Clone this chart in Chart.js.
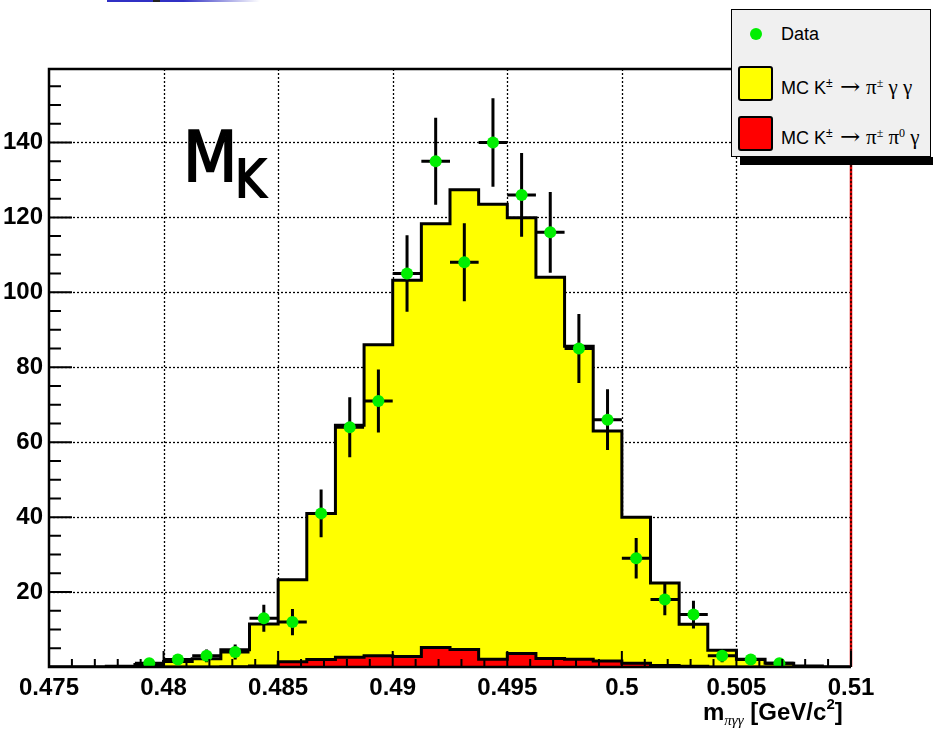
<!DOCTYPE html>
<html>
<head>
<meta charset="utf-8">
<script src="https://cdn.jsdelivr.net/npm/chart.js@4.4.0/dist/chart.umd.min.js"></script>
<style>
  html, body { margin: 0; padding: 0; background: #fff; }
  #wrap { position: relative; width: 933px; height: 732px; overflow: hidden; font-family: "Liberation Sans", Arial, sans-serif; }
  #c { position: absolute; left: 0; top: 0; }
  .abs { position: absolute; white-space: nowrap; line-height: 1; }
  #topbar { left: 107px; top: 0; width: 153px; height: 2px; background: linear-gradient(to right, #3030c4 0%, #3030c4 50%, #ffffff 100%); }
  #topbar i { position: absolute; left: 46px; top: 0; width: 7px; height: 2px; background: #222; }
  .mk { font-family: "DejaVu Sans", sans-serif; color: #000; -webkit-text-stroke: 2px #000; transform-origin: left top; transform: scaleX(0.9); }
  #leg { left: 731px; top: 9px; width: 200px; height: 148px; background: #f0f0f0; border: 1px solid #000; box-sizing: border-box; }
  #legShadow { left: 740px; top: 157px; width: 193px; height: 8px; background: #000; }
  .lt { font-size: 18px; color: #000; }
  .sym { font-family: "Liberation Serif", "DejaVu Serif", serif; font-size: 21px; }
  .arr { font-family: "DejaVu Serif", serif; font-size: 22px; display: inline-block; transform: scaleX(1.1); margin: 0 7px 0 3px; }
  .lt sup { font-size: 12px; line-height: 0; vertical-align: 7px; }
  .swatch { width: 35px; height: 35px; border: 2px solid #000; border-radius: 3px; box-sizing: border-box; }
  .dot { width: 12px; height: 12px; border-radius: 50%; background: #00ee00; }
  #xtitle { left: 703px; top: 700px; font-size: 24px; font-weight: bold; color: #000; }
  #xtitle sub { font-family: "Liberation Serif", serif; font-style: italic; font-weight: normal; font-size: 15px; line-height: 0; vertical-align: -5px; }
  #xtitle sup { font-size: 15px; line-height: 0; vertical-align: 11px; }
</style>
</head>
<body>
<div id="wrap">
  <canvas id="c" width="933" height="732"></canvas>
  <div id="topbar" class="abs"><i></i></div>
  <div class="abs mk" style="left:183px; top:122px; font-size:70px;">M</div>
  <div class="abs mk" style="left:235px; top:153px; font-size:52px;">K</div>
  <div id="legShadow" class="abs"></div>
  <div id="leg" class="abs"></div>
  <div class="abs dot" style="left:750px; top:28px;"></div>
  <div class="abs lt" style="left:781px; top:25px;">Data</div>
  <div class="abs swatch" style="left:738px; top:66px; background:#ffff00;"></div>
  <div class="abs lt" style="left:781px; top:76px;">MC K<sup>±</sup> <span class="arr">→</span><span class="sym">π<sup>±</sup> γ γ</span></div>
  <div class="abs swatch" style="left:738px; top:116px; background:#ff0000;"></div>
  <div class="abs lt" style="left:781px; top:126px;">MC K<sup>±</sup> <span class="arr">→</span><span class="sym">π<sup>±</sup> π<sup>0</sup> γ</span></div>
  <div id="xtitle" class="abs">m<sub>πγγ</sub> [GeV/c<sup>2</sup>]</div>
</div>
<script>
// bin edges of the histograms (GeV/c^2)
const binEdges = [0.475, 0.47625, 0.4775, 0.47875, 0.48, 0.48125, 0.4825, 0.48375, 0.485, 0.48625,
  0.4875, 0.48875, 0.49, 0.49125, 0.4925, 0.49375, 0.495, 0.49625, 0.4975, 0.49875,
  0.5, 0.50125, 0.5025, 0.50375, 0.505, 0.50625, 0.5075, 0.50875, 0.51];

// stacked MC total (yellow outline) and the pi pi0 gamma part (red), per bin
const mcTotal = [0, 0, 0.2, 0.7, 1.5, 2.2, 4.6, 11.5, 23.3, 41, 64.5, 86, 103.2, 118.3, 127.4,
  123.5, 119.9, 104, 85.6, 63, 40, 22.4, 11.4, 4.5, 2.1, 1.0, 0.3, 0];
const mcPi0 = [0, 0, 0, 0, 0, 0, 0.1, 0.3, 1.4, 2.0, 2.6, 3.0, 2.8, 5.2, 4.7,
  2.1, 3.6, 2.3, 2.1, 1.6, 1.0, 0.4, 0.2, 0, 0, 0, 0, 0];

// data points
const dataX = [0.479375, 0.480625, 0.481875, 0.483125, 0.484375, 0.485625, 0.486875, 0.488125,
  0.489375, 0.490625, 0.491875, 0.493125, 0.494375, 0.495625, 0.496875, 0.498125, 0.499375,
  0.500625, 0.501875, 0.503125, 0.504375, 0.505625, 0.506875];
const dataY = [1, 2, 3, 4, 13, 12, 41, 64, 71, 105, 135, 108, 140, 126, 116, 85, 66, 29, 18, 14, 3, 2, 1];
const dataErr = [1, 1.4, 1.7, 2, 3.6, 3.5, 6.4, 8, 8.4, 10.2, 11.6, 10.4, 11.8, 11.2, 10.8, 9.2, 8.1,
  5.4, 4.2, 3.7, 1.7, 1.4, 1];
const dataXErr = 0.000625;

const xTickValues = [0.475, 0.48, 0.485, 0.49, 0.495, 0.5, 0.505, 0.51];
const xTickLabels = ["0.475", "0.48", "0.485", "0.49", "0.495", "0.5", "0.505", "0.51"];
const yTickValues = [20, 40, 60, 80, 100, 120, 140];
const yTickLabels = ["20", "40", "60", "80", "100", "120", "140"];

const histPoints = (vals) => {
  const pts = vals.map((v, i) => ({ x: binEdges[i], y: v }));
  pts.push({ x: binEdges[binEdges.length - 1], y: 0 });
  return pts;
};

const rootFrame = {
  id: "rootFrame",
  beforeDatasetsDraw(chart) {
    const { ctx, chartArea: a, scales: { x, y } } = chart;
    ctx.save();
    ctx.strokeStyle = "#000";
    ctx.lineWidth = 1.3;
    ctx.setLineDash([2, 2]);
    for (const v of xTickValues) {
      const px = Math.round(x.getPixelForValue(v)) + 0.5;
      if (px < a.left + 2 || px > a.right - 2) continue;
      ctx.beginPath(); ctx.moveTo(px, a.bottom); ctx.lineTo(px, a.top); ctx.stroke();
    }
    for (const v of yTickValues) {
      const py = Math.round(y.getPixelForValue(v)) + 0.5;
      ctx.beginPath(); ctx.moveTo(a.left, py); ctx.lineTo(a.right, py); ctx.stroke();
    }
    ctx.restore();
  },
  beforeDatasetDraw(chart, args) {
    if (args.index !== 0) return;
    const { ctx, scales: { x, y } } = chart;
    ctx.save();
    ctx.strokeStyle = "#000";
    ctx.lineWidth = 3;
    dataX.forEach((xv, i) => {
      const px = x.getPixelForValue(xv);
      const py = y.getPixelForValue(dataY[i]);
      ctx.beginPath();
      ctx.moveTo(px, y.getPixelForValue(dataY[i] + dataErr[i]));
      ctx.lineTo(px, y.getPixelForValue(Math.max(0, dataY[i] - dataErr[i])));
      ctx.moveTo(x.getPixelForValue(xv - dataXErr), py);
      ctx.lineTo(x.getPixelForValue(xv + dataXErr), py);
      ctx.stroke();
    });
    ctx.restore();
  },
  afterDatasetsDraw(chart) {
    const { ctx, chartArea: a, scales: { x, y } } = chart;
    ctx.save();
    // right border (red) with dotted grid on it
    ctx.strokeStyle = "#e00000";
    ctx.lineWidth = 2.5;
    ctx.beginPath(); ctx.moveTo(a.right, a.top); ctx.lineTo(a.right, a.bottom); ctx.stroke();
    ctx.strokeStyle = "#000";
    ctx.lineWidth = 1.3;
    ctx.setLineDash([2, 2]);
    ctx.beginPath(); ctx.moveTo(a.right, a.bottom); ctx.lineTo(a.right, a.top); ctx.stroke();
    ctx.setLineDash([]);
    // frame
    ctx.lineWidth = 2.5;
    ctx.beginPath();
    ctx.moveTo(a.right, a.top); ctx.lineTo(a.left, a.top);
    ctx.lineTo(a.left, a.bottom); ctx.lineTo(a.right, a.bottom);
    ctx.stroke();
    // ticks, pointing inward
    ctx.lineWidth = 2;
    ctx.beginPath();
    for (let v = 0.475; v <= 0.5101; v += 0.001) {
      const px = x.getPixelForValue(v);
      const major = Math.abs(v * 200 - Math.round(v * 200)) < 1e-6;
      ctx.moveTo(px, a.bottom); ctx.lineTo(px, a.bottom - (major ? 16 : 8));
    }
    for (let v = 5; v < 160; v += 5) {
      const py = y.getPixelForValue(v);
      ctx.moveTo(a.left, py); ctx.lineTo(a.left + (v % 20 === 0 ? 23 : 12), py);
    }
    ctx.stroke();
    ctx.restore();
  }
};

new Chart(document.getElementById("c"), {
  type: "line",
  data: {
    datasets: [
      {
        label: "Data",
        data: dataX.map((xv, i) => ({ x: xv, y: dataY[i] })),
        showLine: false,
        pointRadius: 6,
        pointHoverRadius: 6,
        pointBackgroundColor: "#00ee00",
        pointBorderWidth: 0
      },
      {
        label: "MC K± → π± π0 γ",
        data: histPoints(mcPi0),
        stepped: true,
        fill: "origin",
        backgroundColor: "#ff0000",
        borderColor: "#000",
        borderWidth: 3,
        pointRadius: 0
      },
      {
        label: "MC K± → π± γ γ",
        data: histPoints(mcTotal),
        stepped: true,
        fill: "origin",
        backgroundColor: "#ffff00",
        borderColor: "#000",
        borderWidth: 3,
        pointRadius: 0
      }
    ]
  },
  options: {
    responsive: false,
    animation: false,
    devicePixelRatio: 1,
    layout: { padding: { left: 0, top: 69, right: 82, bottom: 0 } },
    plugins: { legend: { display: false }, tooltip: { enabled: false } },
    scales: {
      x: {
        type: "linear",
        min: 0.475,
        max: 0.51,
        afterBuildTicks: (s) => { s.ticks = xTickValues.map(v => ({ value: v })); },
        afterFit: (s) => { s.height = 65; },
        grid: { display: false, drawTicks: false },
        border: { display: false },
        ticks: {
          autoSkip: false,
          maxRotation: 0,
          padding: 7,
          color: "#000",
          font: { family: "Liberation Sans", size: 24, weight: "bold" },
          callback: (v, i) => xTickLabels[i]
        }
      },
      y: {
        type: "linear",
        min: 0,
        max: 159.6,
        afterBuildTicks: (s) => { s.ticks = yTickValues.map(v => ({ value: v })); },
        afterFit: (s) => { s.width = 49; },
        grid: { display: false, drawTicks: false },
        border: { display: false },
        ticks: {
          padding: 6,
          color: "#000",
          font: { family: "Liberation Sans", size: 24, weight: "bold" },
          callback: (v, i) => yTickLabels[i]
        }
      }
    }
  },
  plugins: [rootFrame]
});
</script>
</body>
</html>
